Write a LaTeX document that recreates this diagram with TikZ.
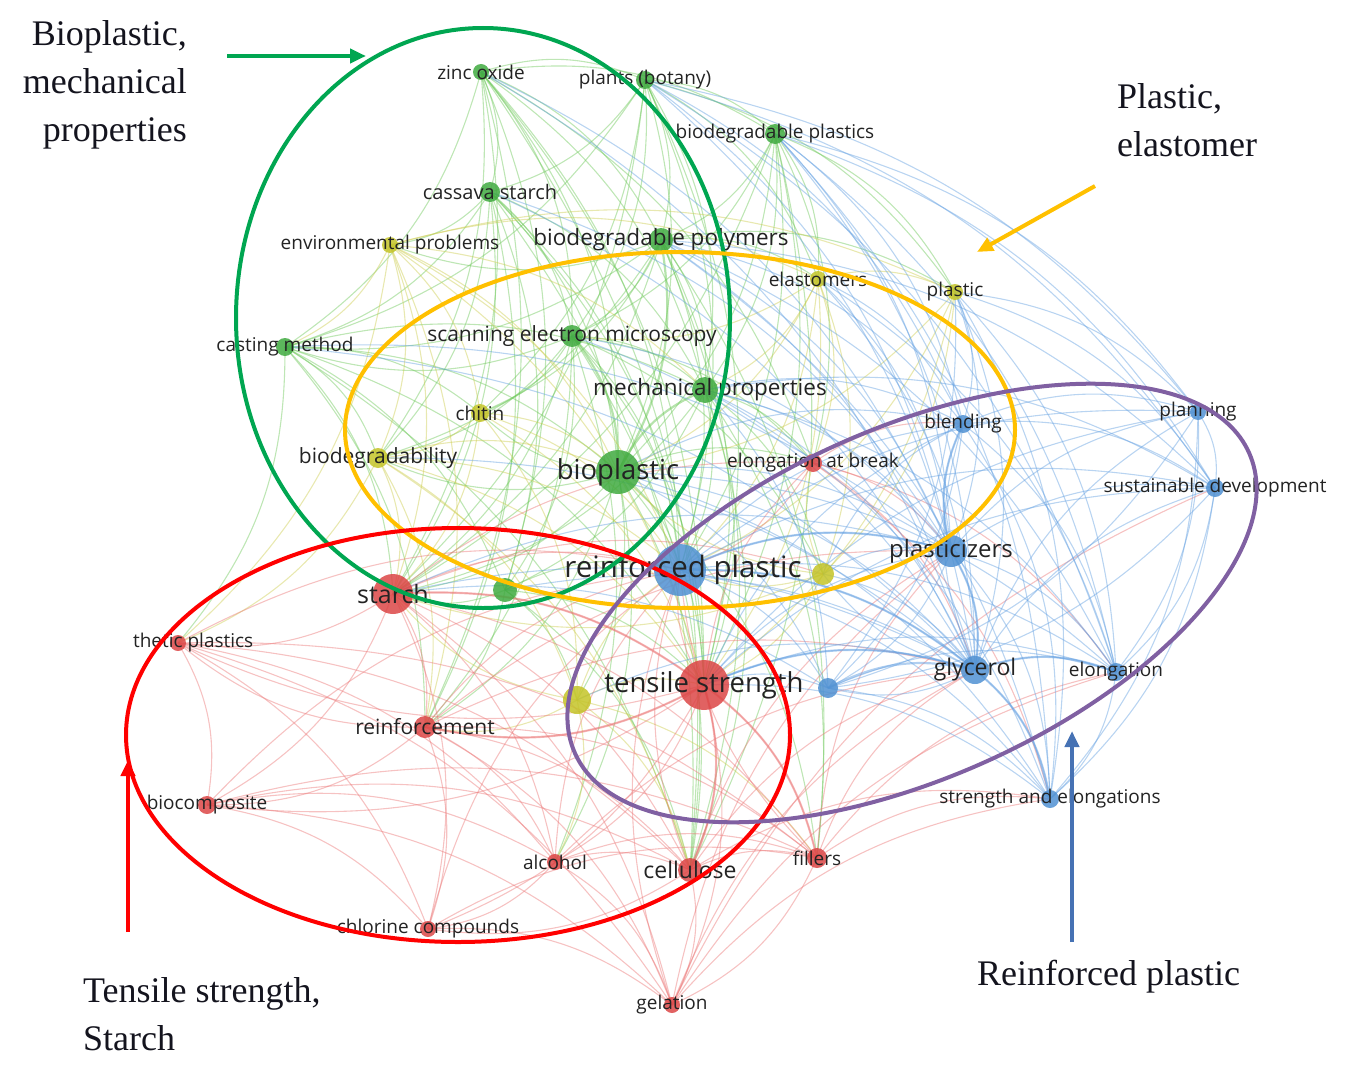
\documentclass[tikz,border=0pt]{standalone}
\usepackage{fontspec}
\setmainfont{Liberation Serif}
\newfontfamily\osans{Open Sans}
\usetikzlibrary{arrows.meta}
\pgfdeclarelayer{edges}
\pgfsetlayers{edges,main}
\definecolor{gN}{RGB}{64,170,64}
\definecolor{yN}{RGB}{196,196,40}
\definecolor{rN}{RGB}{220,70,70}
\definecolor{bN}{RGB}{80,145,210}
\definecolor{gE}{RGB}{110,200,90}
\definecolor{yE}{RGB}{205,205,80}
\definecolor{rE}{RGB}{235,120,120}
\definecolor{bE}{RGB}{100,160,225}
\definecolor{ellG}{RGB}{0,166,81}
\definecolor{ellY}{RGB}{255,192,0}
\definecolor{ellR}{RGB}{255,0,0}
\definecolor{ellP}{RGB}{128,96,162}
\definecolor{arrB}{RGB}{70,114,180}
\definecolor{labC}{RGB}{35,35,35}
\definecolor{annC}{RGB}{20,20,30}
\tikzset{
  kwdot/.style 2 args={circle, inner sep=0pt, minimum size=#2pt, fill=#1, opacity=0.85},
  lab/.style={font={\osans\fontsize{#1pt}{#1pt}\selectfont}, text=labC, inner sep=0pt},
  ge/.style={draw=gE, line width=1.1pt, opacity=0.45},
  ye/.style={draw=yE, line width=1.1pt, opacity=0.45},
  re/.style={draw=rE, line width=1.1pt, opacity=0.45},
  be/.style={draw=bE, line width=1.1pt, opacity=0.45},
  strong/.style={line width=2.2pt, opacity=0.5},
  ring/.style={draw=#1, line width=4pt},
  callout/.style={draw=#1, line width=4pt, -{Triangle[length=16pt,width=14pt]}},
  ann/.style={font={\fontsize{36pt}{48pt}\selectfont}, text=annC, inner sep=0pt},
}
\begin{document}
\begin{tikzpicture}[x=1pt, y=-1pt]
\useasboundingbox (0,0) rectangle (1351,1070);
% ---------- keyword dots ----------
\node[kwdot={gN}{16}] (zinc) at (481,72) {};
\node[kwdot={gN}{18}] (plants) at (645,80) {};
\node[kwdot={gN}{20}] (bdplastics) at (775,134) {};
\node[kwdot={gN}{20}] (cassava) at (490,192) {};
\node[kwdot={gN}{24}] (bdpolymers) at (661,240) {};
\node[kwdot={gN}{22}] (sem) at (572,336) {};
\node[kwdot={gN}{18}] (casting) at (285,347) {};
\node[kwdot={gN}{26}] (mech) at (705,390) {};
\node[kwdot={gN}{44}] (bioplastic) at (618,472) {};
\node[kwdot={gN}{24}] (gdot) at (505,590) {};
\node[kwdot={yN}{16}] (envprob) at (390,245) {};
\node[kwdot={yN}{16}] (elastomers) at (818,279) {};
\node[kwdot={yN}{16}] (plastic) at (955,292) {};
\node[kwdot={yN}{18}] (chitin) at (480,413) {};
\node[kwdot={yN}{20}] (biodeg) at (378,458) {};
\node[kwdot={yN}{22}] (ydotA) at (823,574) {};
\node[kwdot={yN}{28}] (ydotB) at (577,700) {};
\node[kwdot={rN}{18}] (elongbreak) at (813,463) {};
\node[kwdot={rN}{40}] (starch) at (393,594) {};
\node[kwdot={rN}{16}] (synthetic) at (178,643) {};
\node[kwdot={rN}{22}] (reinforcement) at (425,727) {};
\node[kwdot={rN}{18}] (biocomposite) at (207,805) {};
\node[kwdot={rN}{16}] (alcohol) at (555,862) {};
\node[kwdot={rN}{24}] (cellulose) at (690,870) {};
\node[kwdot={rN}{20}] (fillers) at (817,858) {};
\node[kwdot={rN}{16}] (chlorine) at (428,929) {};
\node[kwdot={rN}{16}] (gelation) at (672,1005) {};
\node[kwdot={rN}{50}] (tensile) at (704,685) {};
\node[kwdot={bN}{52}] (reinforced) at (680,570) {};
\node[kwdot={bN}{18}] (blending) at (963,424) {};
\node[kwdot={bN}{16}] (planning) at (1198,412) {};
\node[kwdot={bN}{18}] (sustdev) at (1215,488) {};
\node[kwdot={bN}{32}] (plasticizers) at (951,551) {};
\node[kwdot={bN}{20}] (bdot) at (828,688) {};
\node[kwdot={bN}{28}] (glycerol) at (975,670) {};
\node[kwdot={bN}{18}] (elongation) at (1116,672) {};
\node[kwdot={bN}{18}] (strengthel) at (1050,799) {};
% ---------- links ----------
\begin{pgfonlayer}{edges}
\foreach \a/\b in {zinc/cassava,zinc/sem,zinc/mech,zinc/bioplastic,zinc/bdpolymers,zinc/casting,zinc/starch,zinc/tensile,zinc/reinforced,zinc/plants,zinc/bdplastics,zinc/biodeg,zinc/gdot,zinc/elongbreak,zinc/cellulose,zinc/reinforcement,
 plants/bdplastics,plants/bdpolymers,plants/sem,plants/mech,plants/bioplastic,plants/casting,plants/cassava,plants/elastomers,plants/plastic,plants/reinforced,plants/tensile,plants/starch,plants/chitin,
 bdplastics/bdpolymers,bdplastics/sem,bdplastics/mech,bdplastics/bioplastic,bdplastics/reinforced,bdplastics/tensile,bdplastics/starch,bdplastics/plastic,bdplastics/elastomers,bdplastics/elongbreak,bdplastics/cellulose,
 cassava/sem,cassava/mech,cassava/bioplastic,cassava/starch,cassava/tensile,cassava/casting,cassava/envprob,cassava/reinforced,cassava/gdot,cassava/biodeg,cassava/cellulose,cassava/reinforcement,
 bdpolymers/sem,bdpolymers/mech,bdpolymers/starch,bdpolymers/tensile,bdpolymers/reinforced,bdpolymers/elastomers,bdpolymers/plastic,bdpolymers/casting,bdpolymers/envprob,bdpolymers/chitin,bdpolymers/biodeg,bdpolymers/cellulose,bdpolymers/fillers,
 sem/mech,sem/starch,sem/tensile,sem/reinforced,sem/casting,sem/chitin,sem/biodeg,sem/gdot,sem/cellulose,sem/reinforcement,sem/elongbreak,sem/ydotA,sem/alcohol,
 casting/bioplastic,casting/mech,casting/starch,casting/tensile,casting/biodeg,casting/chitin,casting/gdot,casting/synthetic,casting/reinforcement,casting/cellulose,
 mech/tensile,mech/reinforced,mech/starch,mech/elongbreak,mech/cellulose,mech/fillers,mech/gdot,mech/ydotA,
 bioplastic/starch,bioplastic/tensile,bioplastic/reinforced,bioplastic/cellulose,bioplastic/reinforcement,bioplastic/alcohol,bioplastic/biodeg,bioplastic/chitin,bioplastic/elongbreak,bioplastic/ydotB,bioplastic/fillers,
 gdot/starch,gdot/tensile,gdot/reinforced,gdot/reinforcement,gdot/ydotB,gdot/cellulose}
  \draw[ge] (\a.center) to[bend left=20] (\b.center);
\foreach \a/\b in {bioplastic/mech,bdpolymers/bioplastic,sem/bioplastic}
  \draw[ge,strong] (\a.center) to[bend left=20] (\b.center);
\foreach \a/\b in {envprob/biodeg,envprob/chitin,envprob/bioplastic,envprob/mech,envprob/starch,envprob/reinforced,envprob/tensile,envprob/casting,envprob/plastic,envprob/elastomers,envprob/reinforcement,envprob/synthetic,
 elastomers/plastic,elastomers/reinforced,elastomers/tensile,elastomers/ydotA,elastomers/mech,elastomers/bioplastic,elastomers/sem,elastomers/elongbreak,
 plastic/reinforced,plastic/tensile,plastic/ydotA,plastic/bioplastic,
 chitin/biodeg,chitin/bioplastic,chitin/starch,chitin/tensile,chitin/reinforced,chitin/ydotB,
 biodeg/starch,biodeg/tensile,biodeg/reinforced,biodeg/bioplastic,biodeg/ydotB,biodeg/reinforcement,biodeg/synthetic,biodeg/cellulose,
 ydotA/reinforced,ydotA/tensile,ydotA/starch,ydotA/bioplastic,ydotA/elongbreak,
 ydotB/tensile,ydotB/reinforced,ydotB/starch,ydotB/reinforcement,ydotB/cellulose,ydotB/alcohol,ydotB/fillers}
  \draw[ye] (\a.center) to[bend left=20] (\b.center);
\foreach \a/\b in {starch/tensile,starch/reinforced,starch/reinforcement,starch/synthetic,starch/biocomposite,starch/alcohol,starch/cellulose,starch/chlorine,starch/fillers,starch/gelation,starch/elongbreak,starch/ydotA,
 tensile/reinforced,tensile/reinforcement,tensile/cellulose,tensile/fillers,tensile/alcohol,tensile/gelation,tensile/chlorine,tensile/elongbreak,tensile/biocomposite,tensile/synthetic,
 reinforcement/synthetic,reinforcement/biocomposite,reinforcement/chlorine,reinforcement/alcohol,reinforcement/cellulose,reinforcement/fillers,reinforcement/reinforced,reinforcement/gelation,reinforcement/glycerol,reinforcement/plasticizers,
 synthetic/biocomposite,synthetic/chlorine,synthetic/gelation,synthetic/cellulose,synthetic/alcohol,synthetic/reinforced,synthetic/fillers,
 biocomposite/chlorine,biocomposite/alcohol,biocomposite/cellulose,biocomposite/gelation,biocomposite/fillers,biocomposite/reinforced,
 alcohol/cellulose,alcohol/chlorine,alcohol/gelation,alcohol/reinforced,alcohol/fillers,alcohol/glycerol,
 cellulose/fillers,cellulose/gelation,cellulose/reinforced,cellulose/chlorine,cellulose/glycerol,cellulose/plasticizers,cellulose/strengthel,
 fillers/gelation,fillers/reinforced,fillers/glycerol,fillers/strengthel,fillers/plasticizers,fillers/elongation,
 chlorine/gelation,chlorine/reinforced,chlorine/fillers,
 gelation/reinforced,gelation/strengthel,gelation/elongation,gelation/glycerol,gelation/plasticizers,gelation/sustdev,
 elongbreak/reinforced,elongbreak/plasticizers,elongbreak/glycerol,elongbreak/blending,elongbreak/elongation,elongbreak/strengthel}
  \draw[re] (\a.center) to[bend left=20] (\b.center);
\foreach \a/\b in {starch/tensile,tensile/cellulose,tensile/reinforcement,tensile/fillers}
  \draw[re,strong] (\a.center) to[bend left=20] (\b.center);
\foreach \a/\b in {reinforced/plasticizers,reinforced/glycerol,reinforced/blending,reinforced/bdot,reinforced/elongation,reinforced/strengthel,reinforced/planning,reinforced/sustdev,
 plasticizers/glycerol,plasticizers/blending,plasticizers/elongation,plasticizers/strengthel,plasticizers/planning,plasticizers/sustdev,plasticizers/bdot,
 glycerol/elongation,glycerol/strengthel,glycerol/blending,glycerol/planning,glycerol/sustdev,glycerol/bdot,glycerol/ydotA,
 blending/planning,blending/sustdev,blending/elongation,blending/strengthel,blending/bdot,
 planning/sustdev,planning/elongation,planning/strengthel,planning/bdot,
 sustdev/elongation,sustdev/strengthel,sustdev/bdot,
 elongation/strengthel,bdot/strengthel,bdot/elongation,
 zinc/plasticizers,zinc/glycerol,plants/blending,plants/sustdev,plants/glycerol,plants/plasticizers,plants/planning,plants/elongation,
 bdplastics/plasticizers,bdplastics/glycerol,bdplastics/planning,bdplastics/sustdev,bdplastics/blending,bdplastics/elongation,bdplastics/strengthel,
 cassava/glycerol,cassava/plasticizers,bdpolymers/plasticizers,bdpolymers/glycerol,bdpolymers/blending,bdpolymers/elongation,bdpolymers/strengthel,bdpolymers/sustdev,
 sem/plasticizers,sem/glycerol,casting/glycerol,casting/plasticizers,
 mech/plasticizers,mech/glycerol,mech/blending,mech/elongation,mech/strengthel,mech/bdot,mech/sustdev,
 bioplastic/plasticizers,bioplastic/glycerol,bioplastic/bdot,bioplastic/blending,bioplastic/strengthel,bioplastic/elongation,gdot/glycerol,
 plastic/plasticizers,plastic/blending,plastic/planning,plastic/sustdev,plastic/glycerol,plastic/elongation,plastic/strengthel,plastic/bdot,
 elastomers/plasticizers,elastomers/blending,elastomers/glycerol,elastomers/elongation,ydotA/plasticizers,ydotA/glycerol,ydotA/blending,biodeg/glycerol,ydotB/glycerol,
 tensile/glycerol,tensile/plasticizers,tensile/elongation,tensile/strengthel,tensile/blending,tensile/sustdev,tensile/planning,tensile/bdot,
 starch/glycerol,starch/plasticizers,starch/bdot}
  \draw[be] (\a.center) to[bend left=20] (\b.center);
\foreach \a/\b in {reinforced/plasticizers,reinforced/glycerol,plasticizers/glycerol,glycerol/elongation,glycerol/strengthel,plasticizers/blending,tensile/glycerol,bdot/glycerol}
  \draw[be,strong] (\a.center) to[bend left=20] (\b.center);
\end{pgfonlayer}
% ---------- labels ----------
\node[lab=19] (zincL) at (zinc) {zinc oxide};
\node[lab=19] (plantsL) at (plants) {plants (botany)};
\node[lab=19] (bdplasticsL) at (bdplastics) {biodegradable plastics};
\node[lab=20] (cassavaL) at (cassava) {cassava starch};
\node[lab=22.5] (bdpolymersL) at (bdpolymers) {biodegradable polymers};
\node[lab=21] (semL) at (sem) {scanning electron microscopy};
\node[lab=19] (castingL) at (casting) {casting method};
\node[lab=22.5] (mechL) at ([xshift=5pt]mech) {mechanical properties};
\node[lab=27.5] (bioplasticL) at (bioplastic) {bioplastic};
\node[lab=19] (envprobL) at (envprob) {environmental problems};
\node[lab=19] (elastomersL) at (elastomers) {elastomers};
\node[lab=19] (plasticL) at (plastic) {plastic};
\node[lab=19] (chitinL) at (chitin) {chitin};
\node[lab=21] (biodegL) at (biodeg) {biodegradability};
\node[lab=19] (elongbreakL) at (elongbreak) {elongation at break};
\node[lab=25] (starchL) at (starch) {starch};
\begin{scope}
\clip (133,600) rectangle (400,690);
\node[lab=19] (syntheticL) at (synthetic) {synthetic plastics};
\end{scope}
\node[lab=21] (reinforcementL) at (reinforcement) {reinforcement};
\node[lab=19] (biocompositeL) at (biocomposite) {biocomposite};
\node[lab=19] (alcoholL) at (alcohol) {alcohol};
\node[lab=23] (celluloseL) at (cellulose) {cellulose};
\node[lab=19] (fillersL) at (fillers) {fillers};
\node[lab=19] (chlorineL) at (chlorine) {chlorine compounds};
\node[lab=19] (gelationL) at (gelation) {gelation};
\node[lab=27.5] (tensileL) at (tensile) {tensile strength};
\node[lab=29.5] (reinforcedL) at ([xshift=3pt]reinforced) {reinforced plastic};
\node[lab=19] (blendingL) at (blending) {blending};
\node[lab=19] (planningL) at (planning) {planning};
\node[lab=19] (sustdevL) at (sustdev) {sustainable development};
\node[lab=24] (plasticizersL) at (plasticizers) {plasticizers};
\node[lab=23] (glycerolL) at (glycerol) {glycerol};
\node[lab=19] (elongationL) at (elongation) {elongation};
\node[lab=19] (strengthelL) at (strengthel) {strength and elongations};
% ---------- cluster rings ----------
\draw[ring=ellG] (483,318) ellipse [x radius=247, y radius=290];
\draw[ring=ellY] (680,430) ellipse [x radius=335, y radius=178];
\draw[ring=ellR] (458,735) ellipse [x radius=332, y radius=207];
\draw[ring=ellP, rotate around={24:(912,603)}] (912,603) ellipse [x radius=369pt, y radius=175pt];
% ---------- callouts ----------
\node[ann, align=right, anchor=east] (annG) at (187,85) {Bioplastic,\\mechanical\\properties};
\node[ann, align=left, anchor=west] (annY) at (1117,120) {Plastic,\\elastomer};
\node[ann, align=left, anchor=west] (annR) at (83,1014) {Tensile strength,\\Starch};
\node[ann, anchor=west] (annB) at (977,977) {Reinforced plastic};
\coordinate (gA) at (227,56); \coordinate (gB) at (366,56);
\coordinate (yA) at (1095,186); \coordinate (yB) at (977,252);
\coordinate (rA) at (128,932); \coordinate (rB) at (128,760);
\coordinate (bA) at (1072,942); \coordinate (bB) at (1072,731);
\draw[callout=ellG] (gA) -- (gB);
\draw[callout=ellY] (yA) -- (yB);
\draw[callout=ellR] (rA) -- (rB);
\draw[callout=arrB] (bA) -- (bB);
\end{tikzpicture}
\end{document}
